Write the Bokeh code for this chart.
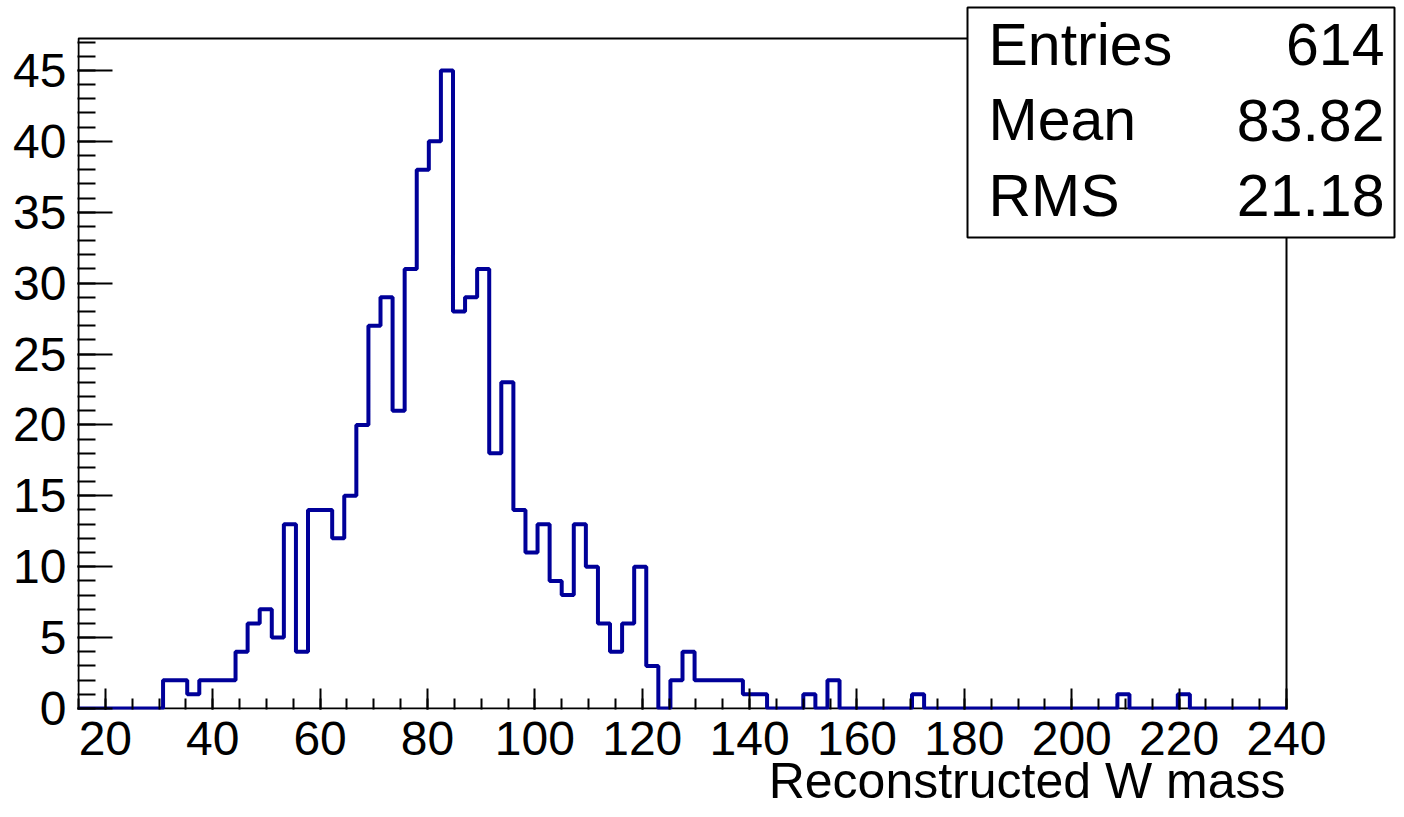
import numpy as np
from bokeh.plotting import figure
from bokeh.models import Range1d, FixedTicker, Label, BoxAnnotation, Title
from bokeh.embed import file_html
from bokeh.resources import INLINE

# ---------------- data ----------------
x_low, x_high, n_bins = 15.0, 240.0, 100
counts = [
    0, 0, 0, 0, 0, 0, 0, 2, 2, 1,
    2, 2, 2, 4, 6, 7, 5, 13, 4, 14,
    14, 12, 15, 20, 27, 29, 21, 31, 38, 40,
    45, 28, 29, 31, 18, 23, 14, 11, 13, 9,
    8, 13, 10, 6, 4, 6, 10, 3, 0, 2,
    4, 2, 2, 2, 2, 1, 1, 0, 0, 0,
    1, 0, 2, 0, 0, 0, 0, 0, 0, 1,
    0, 0, 0, 0, 0, 0, 0, 0, 0, 0,
    0, 0, 0, 0, 0, 0, 1, 0, 0, 0,
    0, 1, 0, 0, 0, 0, 0, 0, 0, 0,
]
x_ticks = [20, 40, 60, 80, 100, 120, 140, 160, 180, 200, 220, 240]
y_ticks = [0, 5, 10, 15, 20, 25, 30, 35, 40, 45]
stat_names = ["Entries", "Mean", "RMS"]
stat_values = ["614", "83.82", "21.18"]
x_title = "Reconstructed W mass"

edges = np.linspace(x_low, x_high, n_bins + 1)
y_high = max(counts) * 1.05

# step outline of the histogram
xs, ys = [edges[0]], [0]
for i, c in enumerate(counts):
    xs += [edges[i], edges[i + 1]]
    ys += [c, c]
xs.append(edges[-1]); ys.append(0)

# ---------------- layout (pixels) ----------------
W, H = 1396, 809
AX_L, AX_R, AX_T, AX_B = 78, 1286, 38, 708     # histogram frame lines
sx = (AX_R - AX_L) / (x_high - x_low)
sy = (AX_B - AX_T) / y_high
FL, FR, FT, FB = 77, W, 4, 709                # bokeh frame (covers stats box)

x_range = Range1d(x_low - (AX_L - FL) / sx, x_high + (FR - AX_R) / sx)
y_range = Range1d(-(FB - AX_B) / sy, y_high + (AX_T - FT) / sy)

p = figure(width=W, height=H, output_backend="svg", toolbar_location=None,
           x_range=x_range, y_range=y_range,
           min_border_left=FL, min_border_right=W - FR,
           min_border_top=FT, min_border_bottom=H - FB)
p.background_fill_color = "white"
p.border_fill_color = "white"
p.outline_line_color = None
p.xgrid.visible = False
p.ygrid.visible = False

FONT = "Liberation Sans"
p.xaxis.ticker = FixedTicker(ticks=x_ticks, minor_ticks=list(range(15, 241, 5)))
p.yaxis.ticker = FixedTicker(ticks=y_ticks, minor_ticks=list(range(0, 48)))
for ax in (p.xaxis[0], p.yaxis[0]):
    ax.axis_line_color = None
    ax.major_tick_line_width = 2
    ax.minor_tick_line_width = 2
    ax.major_tick_out = 0
    ax.minor_tick_out = 0
    ax.major_label_text_font = FONT
    ax.major_label_text_font_size = "48px"
    ax.major_label_text_color = "black"
p.xaxis.major_tick_in = 21
p.xaxis.minor_tick_in = 11
p.yaxis.major_tick_in = 35
p.yaxis.minor_tick_in = 18
p.xaxis.major_label_standoff = 12
p.yaxis.major_label_standoff = 11

# histogram frame
p.quad(left=[x_low], right=[x_high], bottom=[0], top=[y_high],
       fill_color=None, line_color="black", line_width=2)
# histogram outline
p.line(xs, ys, line_color="#000099", line_width=4)

def dx(px):
    return x_low + (px - AX_L) / sx

def dy(py):
    return (AX_B - py) / sy

# axis title, right aligned at the histogram frame end
p.add_layout(Title(text=x_title, align="right", offset=(FR - AX_R) + 1,
                   text_font=FONT, text_font_size="50px",
                   text_font_style="normal", text_color="black", standoff=-13), "below")

# statistics box
p.add_layout(BoxAnnotation(left=dx(967), right=dx(W - 2), top=dy(7), bottom=dy(237),
                           fill_color="white", fill_alpha=1.0,
                           line_color="black", line_alpha=1.0, line_width=2))
for i, (n, v) in enumerate(zip(stat_names, stat_values)):
    base = 65 + 75.5 * i          # target baseline (pixels)
    ypos = dy(base - 21)          # label anchor sits at cap centre
    p.add_layout(Label(x=dx(988), y=ypos, text=n, text_align="left",
                       text_baseline="alphabetic", text_font=FONT,
                       text_font_size="59px", text_color="black"))
    p.add_layout(Label(x=dx(1384), y=ypos, text=v, text_align="right",
                       text_baseline="alphabetic", text_font=FONT,
                       text_font_size="59px", text_color="black"))

open("out.html", "w").write(file_html(p, INLINE))
